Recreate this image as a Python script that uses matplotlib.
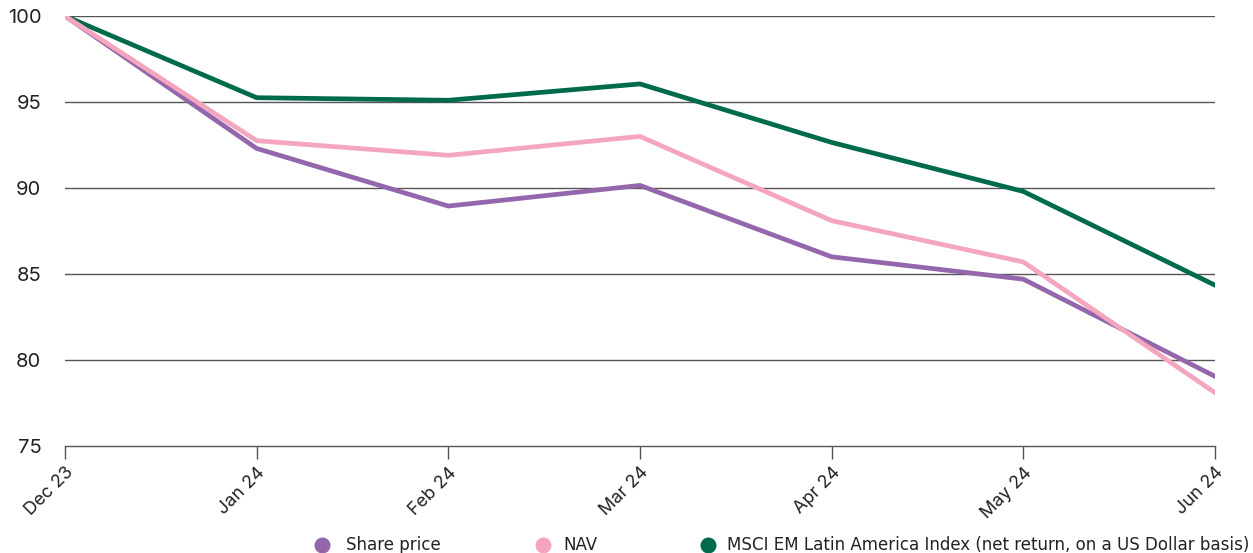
import matplotlib
matplotlib.use("Agg")
import matplotlib.pyplot as plt

months = ["Dec 23", "Jan 24", "Feb 24", "Mar 24", "Apr 24", "May 24", "Jun 24"]
share_price = [100.0, 92.3, 88.95, 90.15, 86.0, 84.7, 79.05]
nav = [100.0, 92.75, 91.9, 93.0, 88.1, 85.7, 78.1]
msci = [100.0, 95.25, 95.1, 96.05, 92.65, 89.8, 84.35]
y_ticks = [75, 80, 85, 90, 95, 100]
series_names = ["Share price", "NAV", "MSCI EM Latin America Index (net return, on a US Dollar basis)"]

c_share = "#9466ab"
c_nav = "#f3a6bd"
c_msci = "#006a4d"

plt.rcParams["font.family"] = ["Inter", "DejaVu Sans"]

fig = plt.figure(figsize=(12.53, 5.53), dpi=100)
ax = fig.add_axes([65 / 1253, 1 - 446 / 553, 1150 / 1253, 430 / 553])

x = list(range(len(months)))
for yv in y_ticks[1:]:
    ax.axhline(yv, color="#555555", lw=1.0, zorder=1)

lw = 3.4
ax.plot(x, msci, color=c_msci, lw=lw, zorder=3)
ax.plot(x, share_price, color=c_share, lw=lw, zorder=4)
ax.plot(x, nav, color=c_nav, lw=lw, zorder=5)

ax.set_xlim(0, len(months) - 1)
ax.set_ylim(75, 100)
ax.set_yticks(y_ticks)
ax.set_yticklabels([str(v) for v in y_ticks], fontsize=14.5, color="#222222")
ax.set_xticks(x)
ax.set_xticklabels(months, rotation=45, ha="right", rotation_mode="anchor",
                   fontsize=13, color="#222222")
ax.tick_params(axis="y", length=0, pad=17)
ax.tick_params(axis="x", length=9, width=1.0, color="#555555", pad=4)

for s in ["top", "right", "left"]:
    ax.spines[s].set_visible(False)
ax.spines["bottom"].set_color("#555555")
ax.spines["bottom"].set_linewidth(1.0)

# legend row drawn in figure pixel coordinates
legend_y = 1 - 545 / 553
marker_x = [322, 543, 708]
text_x = [346, 563, 727]
for mx, tx, col, name in zip(marker_x, text_x, [c_share, c_nav, c_msci], series_names):
    fig.lines.append(plt.Line2D([mx / 1253], [legend_y], marker="o", markersize=10.5,
                                color=col, ls="none", transform=fig.transFigure))
    fig.text(tx / 1253, legend_y, name, ha="left", va="center", fontsize=13.3,
             family="DejaVu Sans", fontstretch="condensed", color="#222222")

fig.savefig("out.png", dpi=100)
